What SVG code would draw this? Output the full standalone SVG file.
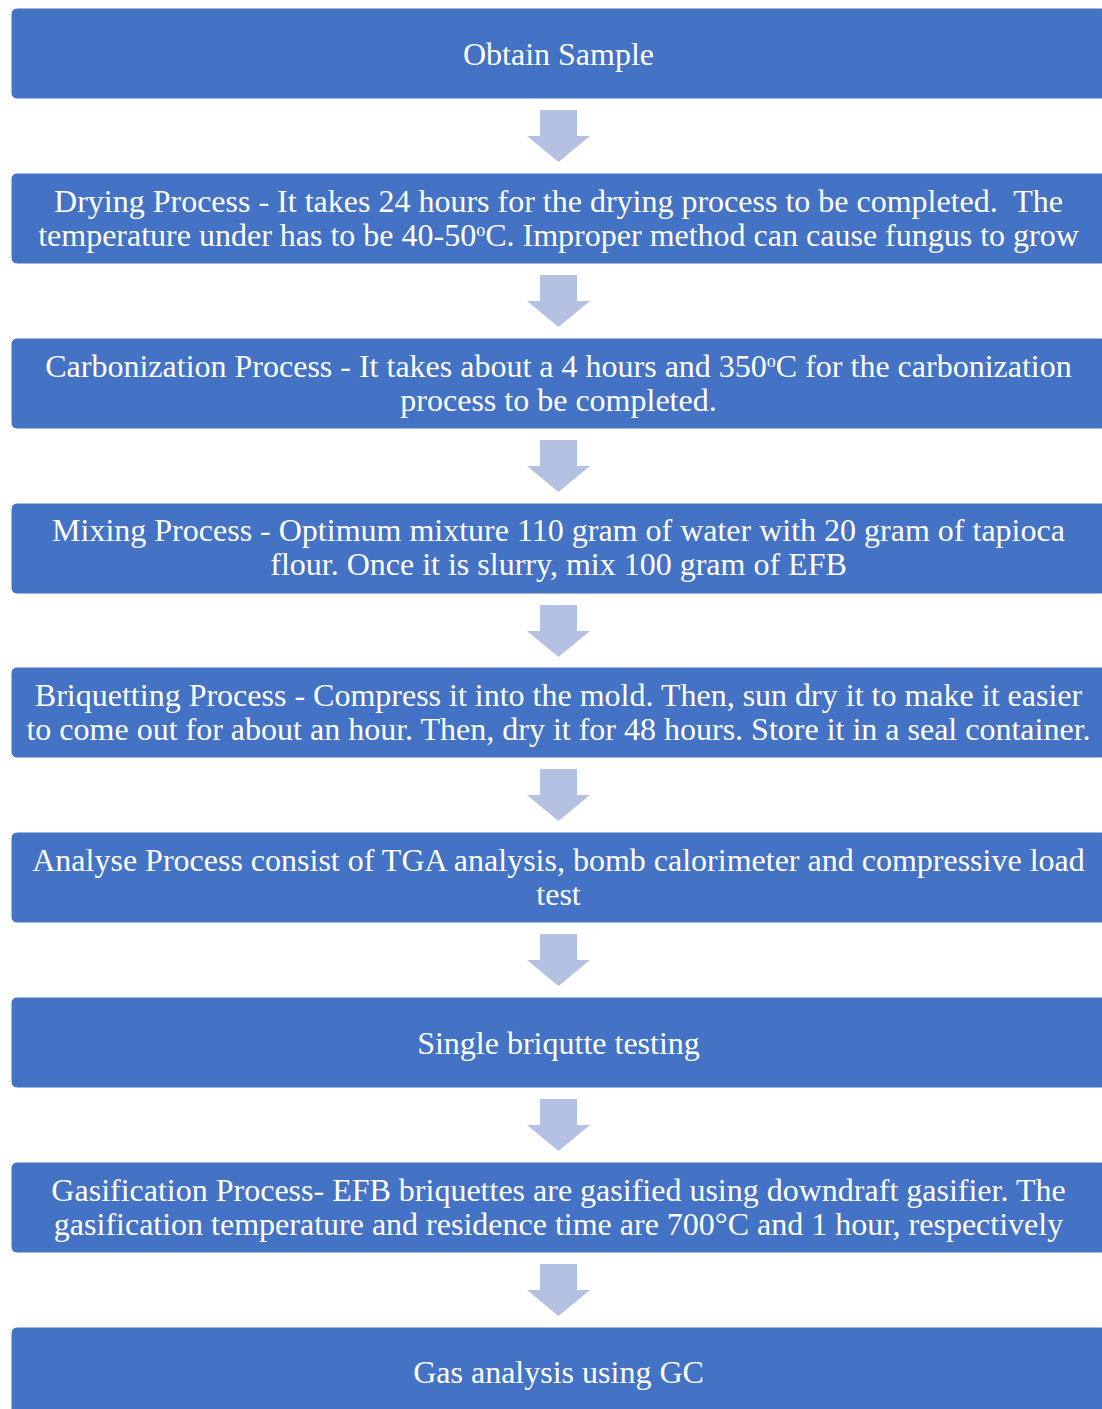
<svg xmlns="http://www.w3.org/2000/svg" width="1102" height="1409" viewBox="0 0 1102 1409">
<defs>
<style>
.box{fill:#4472C4;stroke:#ffffff;stroke-width:1}
.t{font-family:"Liberation Serif","Times New Roman",serif;font-size:32px;fill:#ffffff;text-anchor:middle}
.arr{fill:#B4C1E2}
.sup{font-size:18px}
</style>
<path id="arrow" class="arr" d="M540,0 H577 V26 H590 L558.5,52 L527,26 H540 Z"/>
</defs>
<rect width="1102" height="1409" fill="#ffffff"/>
<g id="connectors">
<use href="#arrow" y="110"/>
<use href="#arrow" y="275"/>
<use href="#arrow" y="440"/>
<use href="#arrow" y="605"/>
<use href="#arrow" y="769"/>
<use href="#arrow" y="934"/>
<use href="#arrow" y="1099"/>
<use href="#arrow" y="1264"/>
</g>
<g id="n1"><rect class="box" x="11" y="8" width="1096" height="91" rx="6"/>
<text class="t" x="558.5" y="65">Obtain Sample</text></g>
<g id="n2"><rect class="box" x="11" y="173" width="1096" height="91" rx="6"/>
<text class="t" x="558.5" y="212">Drying Process - It takes 24 hours for the drying process to be completed.&#160; The</text>
<text class="t" x="558.5" y="246">temperature under has to be 40-50<tspan class="sup" dy="-10">o</tspan><tspan dy="10">C. Improper method can cause fungus to grow</tspan></text></g>
<g id="n3"><rect class="box" x="11" y="338" width="1096" height="91" rx="6"/>
<text class="t" x="558.5" y="377">Carbonization Process - It takes about a 4 hours and 350<tspan class="sup" dy="-10">o</tspan><tspan dy="10">C for the carbonization</tspan></text>
<text class="t" x="558.5" y="411">process to be completed.</text></g>
<g id="n4"><rect class="box" x="11" y="503" width="1096" height="91" rx="6"/>
<text class="t" x="558.5" y="541">Mixing Process - Optimum mixture 110 gram of water with 20 gram of tapioca</text>
<text class="t" x="558.5" y="575">flour. Once it is slurry, mix 100 gram of EFB</text></g>
<g id="n5"><rect class="box" x="11" y="667" width="1096" height="91" rx="6"/>
<text class="t" x="558.5" y="706">Briquetting Process - Compress it into the mold. Then, sun dry it to make it easier</text>
<text class="t" x="558.5" y="740">to come out for about an hour. Then, dry it for 48 hours. Store it in a seal container.</text></g>
<g id="n6"><rect class="box" x="11" y="832" width="1096" height="91" rx="6"/>
<text class="t" x="558.5" y="871">Analyse Process consist of TGA analysis, bomb calorimeter and compressive load</text>
<text class="t" x="558.5" y="905">test</text></g>
<g id="n7"><rect class="box" x="11" y="997" width="1096" height="91" rx="6"/>
<text class="t" x="558.5" y="1054">Single briqutte testing</text></g>
<g id="n8"><rect class="box" x="11" y="1162" width="1096" height="91" rx="6"/>
<text class="t" x="558.5" y="1201">Gasification Process- EFB briquettes are gasified using downdraft gasifier. The</text>
<text class="t" x="558.5" y="1235">gasification temperature and residence time are 700°C and 1 hour, respectively</text></g>
<g id="n9"><rect class="box" x="11" y="1327" width="1096" height="91" rx="6"/>
<text class="t" x="558.5" y="1383">Gas analysis using GC</text></g>
</svg>
